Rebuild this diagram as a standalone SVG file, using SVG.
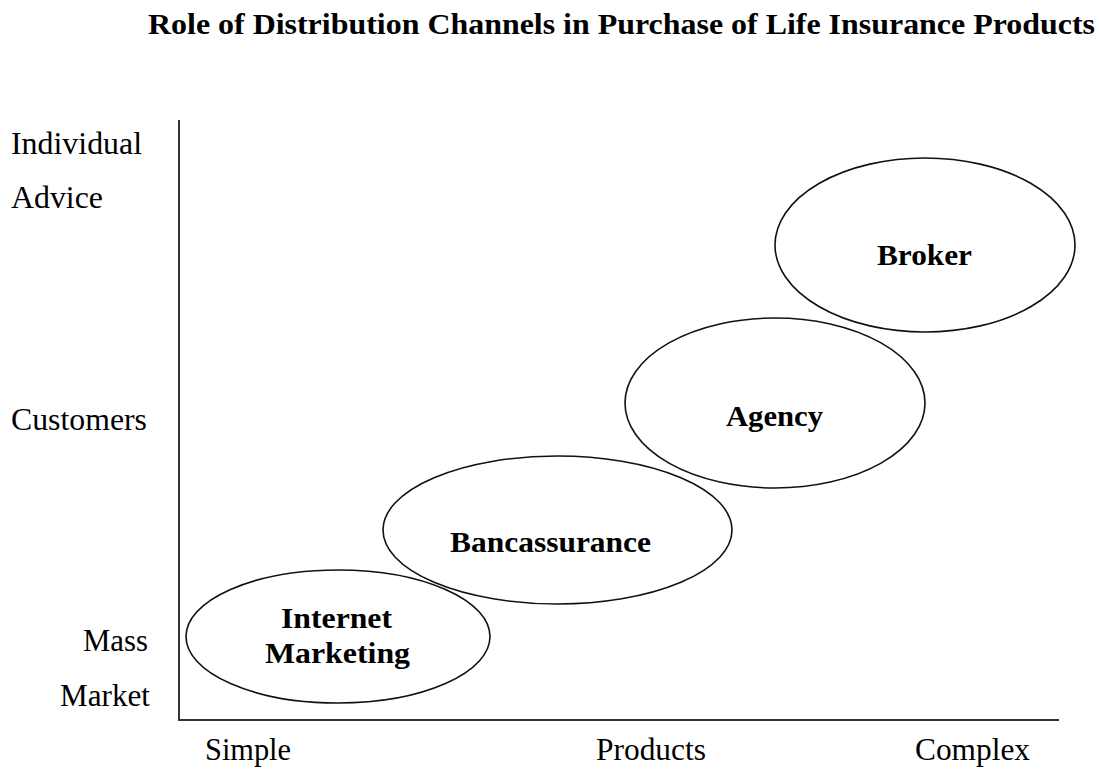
<svg xmlns="http://www.w3.org/2000/svg" width="1099" height="769" viewBox="0 0 1099 769">
  <style>
    .title { font-family: "Liberation Serif", "Times New Roman", serif; font-weight: bold; font-size: 28.5px; fill: #000; }
    .axis-label { font-family: "Liberation Serif", "Times New Roman", serif; font-size: 31px; fill: #000; }
    .node-label { font-family: "Liberation Serif", "Times New Roman", serif; font-weight: bold; font-size: 30px; fill: #000; text-anchor: middle; }
    .channel { fill: none; stroke: #111; stroke-width: 1.6; }
    .axis { stroke: #333; stroke-width: 2; fill: none; }
  </style>
  <rect width="1099" height="769" fill="#fff"/>

  <text class="title" x="148" y="34" textLength="947" lengthAdjust="spacingAndGlyphs">Role of Distribution Channels in Purchase of Life Insurance Products</text>

  <!-- axes -->
  <g id="axes">
    <polyline class="axis" points="179,120 179,720 1059,720"/>
  </g>

  <!-- vertical axis labels -->
  <g id="y-labels">
    <text class="axis-label" x="11" y="154" textLength="131" lengthAdjust="spacingAndGlyphs">Individual</text>
    <text class="axis-label" x="11" y="208" textLength="92" lengthAdjust="spacingAndGlyphs">Advice</text>
    <text class="axis-label" x="11" y="430" textLength="136" lengthAdjust="spacingAndGlyphs">Customers</text>
    <text class="axis-label" x="83" y="651" textLength="65" lengthAdjust="spacingAndGlyphs">Mass</text>
    <text class="axis-label" x="60" y="706" textLength="90" lengthAdjust="spacingAndGlyphs">Market</text>
  </g>

  <!-- horizontal axis labels -->
  <g id="x-labels">
    <text class="axis-label" x="205" y="760" textLength="86" lengthAdjust="spacingAndGlyphs">Simple</text>
    <text class="axis-label" x="596" y="760" textLength="110" lengthAdjust="spacingAndGlyphs">Products</text>
    <text class="axis-label" x="915" y="760" textLength="115" lengthAdjust="spacingAndGlyphs">Complex</text>
  </g>

  <!-- channel nodes -->
  <g id="node-internet">
    <ellipse class="channel" cx="338" cy="636.5" rx="152" ry="66.5"/>
    <text class="node-label" x="336.5" y="628" textLength="111" lengthAdjust="spacingAndGlyphs">Internet</text>
    <text class="node-label" x="337.5" y="663" textLength="145" lengthAdjust="spacingAndGlyphs">Marketing</text>
  </g>
  <g id="node-bancassurance">
    <ellipse class="channel" cx="557.5" cy="530" rx="174.5" ry="74"/>
    <text class="node-label" x="550.5" y="552" textLength="201" lengthAdjust="spacingAndGlyphs">Bancassurance</text>
  </g>
  <g id="node-agency">
    <ellipse class="channel" cx="775" cy="403" rx="150" ry="85"/>
    <text class="node-label" x="774.5" y="426" textLength="97" lengthAdjust="spacingAndGlyphs">Agency</text>
  </g>
  <g id="node-broker">
    <ellipse class="channel" cx="925" cy="245" rx="150" ry="87"/>
    <text class="node-label" x="924.5" y="265" textLength="95" lengthAdjust="spacingAndGlyphs">Broker</text>
  </g>

  <g id="connectors"></g>
</svg>
